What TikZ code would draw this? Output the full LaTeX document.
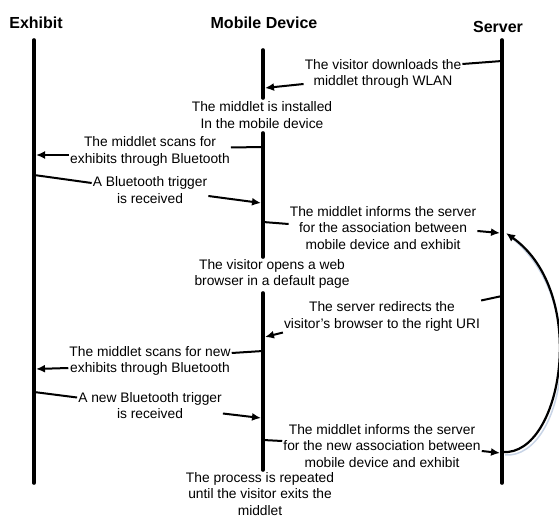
\documentclass[tikz,border=0pt]{standalone}
\usepackage{fontspec}
\setmainfont{Liberation Sans}
\usetikzlibrary{arrows.meta}
\begin{document}
\begin{tikzpicture}[x=1pt,y=-1pt,
  lbl/.style={align=center,font=\fontsize{13.8}{16.8}\selectfont,inner sep=1pt},
  ttl/.style={font=\fontsize{16}{19}\selectfont\bfseries,inner sep=0pt},
  life/.style={line width=3.6pt,line cap=round},
  conn/.style={line width=2pt},
  msg/.style={line width=2pt,-{Latex[length=9pt,width=8pt]}}]
\useasboundingbox (0,0) rectangle (559,518);
% titles
\node[ttl] (hE) at (36,23) {Exhibit};
\node[ttl] (hM) at (264,23) {Mobile Device};
\node[ttl] (hS) at (498,27) {Server};
% lifelines
\coordinate (E0) at (34,40);  \coordinate (E1) at (34,483);
\coordinate (S0) at (502,40); \coordinate (S1) at (502,483);
\coordinate (M0) at (263,50); \coordinate (M1) at (263,98);
\coordinate (M2) at (263,133); \coordinate (M3) at (263,257);
\coordinate (M4) at (263,293); \coordinate (M5) at (263,470);
\draw[life] (E0) -- (E1);
\draw[life] (S0) -- (S1);
\draw[life] (M0) -- (M1);
\draw[life] (M2) -- (M3);
\draw[life] (M4) -- (M5);
% texts
\node[lbl] (t1) at (383,74) {The visitor downloads the\\middlet through WLAN};
\node[lbl] (t2) at (262,115) {The middlet is installed\\In the mobile device};
\node[lbl] (t3) at (150,151.5) {The middlet scans for\\exhibits through Bluetooth};
\node[lbl] (t4) at (150,190) {A Bluetooth trigger\\is received};
\node[lbl] (t5) at (383,228) {The middlet informs the server\\for the association between\\mobile device and exhibit};
\node[lbl] (t6) at (272,274) {The visitor opens a web\\browser in a default page};
\node[lbl] (t7) at (382,316.5) {The server redirects the\\visitor's browser to the right URI};
\node[lbl] (t8) at (150,361) {The middlet scans for new\\exhibits through Bluetooth};
\node[lbl] (t9) at (150,405.5) {A new Bluetooth trigger\\is received};
\node[lbl] (t10) at (382,446) {The middlet informs the server\\for the new association between\\mobile device and exhibit};
\node[lbl,inner sep=0pt] (t11) at (260,494) {The process is repeated\\until the visitor exits the\\middlet};
% lifeline points
\coordinate (s1) at (502,61);
\coordinate (m1) at (265,88);
\coordinate (m3) at (262,147);
\coordinate (e3) at (36,155);
\coordinate (e4) at (34,175);
\coordinate (m4) at (261,203);
\coordinate (m5) at (263,222);
\coordinate (s5) at (500,233);
\coordinate (s7) at (502,296);
\coordinate (m7) at (265,337);
\coordinate (m8) at (263,351);
\coordinate (e8) at (36,369);
\coordinate (e9) at (34,392);
\coordinate (m9) at (261,418);
\coordinate (m10) at (263,440);
\coordinate (s10) at (500,453);
\coordinate (sA) at (503,452);
\coordinate (sB) at (506,233);
% connectors
\draw[conn] (s1) -- ([yshift=10pt]t1.east);
\draw[msg] ([yshift=-10pt]t1.west) -- (m1);
\draw[conn] (m3) -- ([yshift=4pt]t3.east);
\draw[msg] ([yshift=-3.5pt]t3.west) -- (e3);
\draw[conn] (e4) -- ([yshift=7pt]t4.west);
\draw[msg] ([yshift=-6pt]t4.east) -- (m4);
\draw[conn] (m5) -- ([yshift=4pt]t5.west);
\draw[msg] ([yshift=-3pt]t5.east) -- (s5);
\draw[conn] (s7) -- ([yshift=16pt]t7.east);
\draw[msg] ([yshift=-16pt]t7.west) -- (m7);
\draw[conn] (m8) -- ([yshift=8pt]t8.east);
\draw[msg] ([yshift=-7pt]t8.west) -- (e8);
\draw[conn] (e9) -- ([yshift=8pt]t9.west);
\draw[msg] ([yshift=-8pt]t9.east) -- (m9);
\draw[conn] (m10) -- ([yshift=5pt]t10.west);
\draw[msg] ([yshift=-5pt]t10.east) -- (s10);
% loop-back curve with faint shadow
\draw[line width=1.5pt,color={rgb,255:red,200;green,212;blue,230}]
  ([shift={(2,3)}]sA) .. controls (565,459) and (592,298) .. ([shift={(3,3)}]sB);
\draw[msg,line width=2.2pt] (sA) .. controls (562,456) and (590,293) .. (sB);
\end{tikzpicture}
\end{document}
